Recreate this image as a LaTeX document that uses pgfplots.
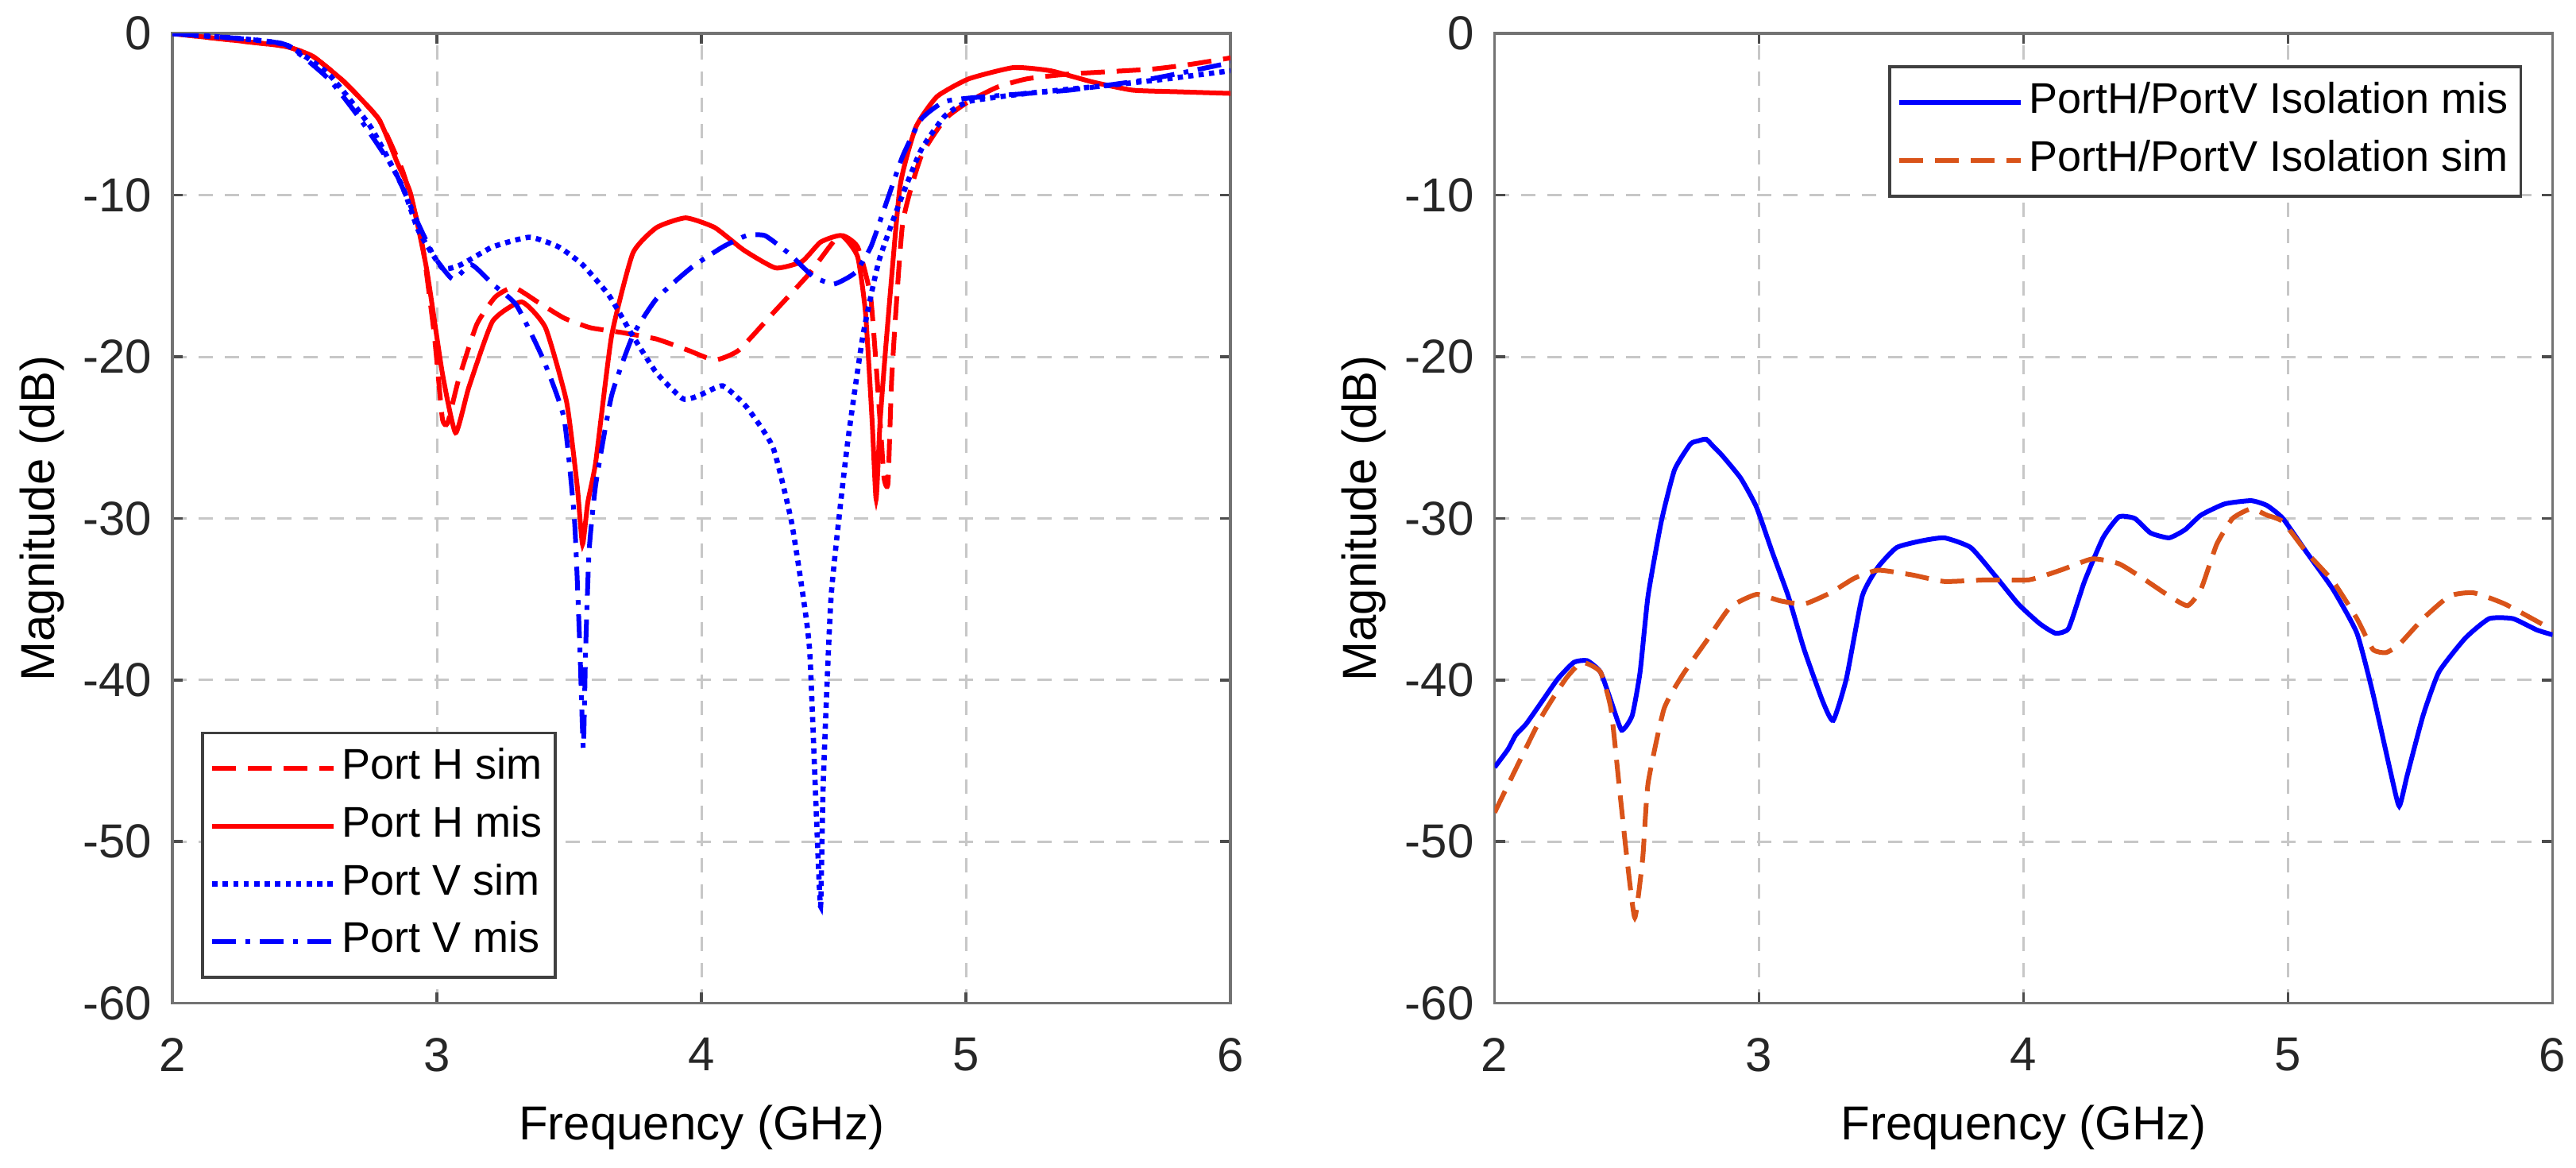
\documentclass[border=0pt]{standalone}
\usepackage{pgfplots}
\pgfplotsset{compat=1.18}
\usepackage{fontspec}
\setmainfont{Liberation Sans}
\definecolor{morange}{rgb}{0.85,0.325,0.098}
\pgfplotsset{
  mystyle/.style={
    scale only axis, width=222pt, height=203.4pt,
    xmin=2, xmax=6, ymin=-60, ymax=0,
    xtick={2,3,4,5,6}, ytick={-60,-50,-40,-30,-20,-10,0},
    /pgf/number format/assume math mode=true,
    tick label style={font=\fontsize{10}{12}\selectfont, text=black!85},
    xticklabel style={yshift=-3.8pt},
    yticklabel style={xshift=-0.8pt},
    label style={font=\fontsize{11.2}{13}\selectfont, text=black!85},
    every axis x label/.style={at={(axis description cs:0.5,0)}, yshift=-26pt, anchor=center},
    every axis y label/.style={at={(axis description cs:0,0.5)}, xshift=-27.4pt, rotate=90, anchor=center},
    xlabel={Frequency (GHz)}, ylabel={Magnitude (dB)},
    grid=major, major grid style={black!22, line width=0.5pt, dash pattern=on 3pt off 2.5pt},
    axis line style={black!55, line width=0.6pt},
    tick align=inside, major tick length=2.2pt, tick style={black!70, line width=0.6pt},
    legend cell align=left,
    legend image code/.code={\draw[#1] (0pt,0pt) -- (25.5pt,0pt);},
    legend style={draw=black!75, fill=white, line width=0.6pt, font=\fontsize{9}{11}\selectfont,
      inner xsep=1.5pt, inner ysep=1.45pt, row sep=0pt,
      nodes={inner xsep=1.2pt, inner ysep=1.55pt, text height=6.75pt, text depth=2.25pt}},
  }
}
\begin{document}
\begin{tikzpicture}
\useasboundingbox (0,0) rectangle (540.5pt,245pt);
% ---------------- left axis
\begin{axis}[mystyle, at={(36.2pt,34.55pt)}, anchor=south west,
  legend style={at={(axis description cs:0,0)}, anchor=south west, xshift=6pt, yshift=5.1pt}]
\addplot[red, line width=1pt, dash pattern=on 5pt off 2.5pt, smooth, tension=0.3] coordinates {
(2,0) (2.28,-0.5) (2.43,-0.8) (2.53,-1.4) (2.65,-3.0) (2.78,-5.3) (2.87,-8.5) (2.92,-11.3) (2.95,-13.6)
(2.99,-18.7) (3.02,-23.8) (3.04,-24.1) (3.08,-21.5) (3.15,-18.0) (3.22,-16.3) (3.29,-15.7) (3.38,-16.6) (3.48,-17.6) (3.58,-18.2) (3.7,-18.5)
(3.83,-18.9) (3.95,-19.6) (4.05,-20.2) (4.14,-19.6) (4.27,-17.3) (4.41,-14.8) (4.52,-12.5)
(4.59,-13.2) (4.64,-16.4) (4.675,-24) (4.69,-27.5) (4.705,-27.8) (4.72,-21) (4.76,-11.8) (4.83,-7.6)
(4.92,-5.3) (5.01,-4.2) (5.12,-3.3) (5.23,-2.8) (5.39,-2.5) (5.7,-2.2) (5.85,-1.9) (6,-1.5)
};
\addlegendentry{Port H sim}
\addplot[red, line width=1pt, smooth, tension=0.3] coordinates {
(2,0) (2.28,-0.5) (2.43,-0.8) (2.53,-1.4) (2.65,-3.0) (2.78,-5.3) (2.85,-8.0) (2.9,-9.9) (2.96,-14.5) (3.02,-21)
(3.07,-24.7) (3.12,-21.9) (3.21,-17.8) (3.32,-16.6) (3.41,-18.2) (3.49,-22.8) (3.53,-28) (3.55,-31.6)
(3.57,-29) (3.6,-26.5) (3.66,-18.7) (3.74,-13.6) (3.83,-12) (3.94,-11.4) (4.05,-12) (4.16,-13.4)
(4.28,-14.5) (4.38,-14.1) (4.45,-12.9) (4.53,-12.5) (4.59,-13.8) (4.62,-17.3) (4.645,-24) (4.66,-28.8) (4.675,-24)
(4.7,-18.7) (4.75,-9.5) (4.81,-5.8) (4.89,-3.9) (5.01,-2.8) (5.18,-2.1) (5.32,-2.3) (5.48,-3.0)
(5.63,-3.5) (5.8,-3.6) (6,-3.7)
};
\addlegendentry{Port H mis}
\addplot[blue, line width=1.1pt, dash pattern=on 1.1pt off 1.1pt, smooth, tension=0.3] coordinates {
(2,0) (2.25,-0.3) (2.43,-0.7) (2.59,-2.5) (2.75,-5.8) (2.87,-9.5) (2.93,-12.2) (3.02,-14.5) (3.09,-14.3)
(3.21,-13.2) (3.35,-12.6) (3.46,-13.2) (3.55,-14.3) (3.65,-16.2) (3.74,-18.7) (3.83,-21)
(3.93,-22.6) (3.99,-22.4) (4.08,-21.8) (4.17,-23.1) (4.27,-25.6) (4.34,-30.2) (4.39,-35.5) (4.41,-38.5)
(4.435,-48.7) (4.45,-54) (4.46,-46.4) (4.49,-34.8) (4.55,-25.6) (4.61,-18.7) (4.67,-14.1)
(4.75,-10.4) (4.83,-7.2) (4.92,-5.1) (5.01,-4.2) (5.23,-3.7) (5.54,-3.2) (5.76,-2.8) (6,-2.3)
};
\addlegendentry{Port V sim}
\addplot[blue, line width=1pt, dash pattern=on 5pt off 2pt on 1pt off 2pt, smooth, tension=0.3] coordinates {
(2,0) (2.25,-0.3) (2.43,-0.7) (2.59,-2.8) (2.71,-5.3) (2.84,-8.5) (2.93,-11.8) (2.99,-13.8) (3.06,-15.2)
(3.13,-14.3) (3.21,-15.5) (3.3,-16.8) (3.4,-20.1) (3.48,-23.8) (3.52,-30.2) (3.54,-38) (3.553,-44.2)
(3.562,-38) (3.575,-32) (3.6,-27.9) (3.66,-22.4) (3.74,-18.7) (3.83,-16.4) (3.96,-14.5) (4.08,-13.2)
(4.17,-12.5) (4.24,-12.5) (4.33,-13.6) (4.42,-15) (4.5,-15.5) (4.58,-14.8) (4.64,-13.2)
(4.7,-10.4) (4.76,-7.6) (4.83,-5.3) (4.92,-4.2) (5.07,-3.9) (5.39,-3.5) (5.7,-2.8) (6,-1.8)
};
\addlegendentry{Port V mis}
\end{axis}
% ---------------- right axis
\begin{axis}[mystyle, at={(313.6pt,34.55pt)}, anchor=south west,
  legend style={at={(axis description cs:1,1)}, anchor=north east, xshift=-6.4pt, yshift=-6.7pt}]
\addplot[blue, line width=1pt, smooth, tension=0.3] coordinates {
(2,-45.4) (2.05,-44.3) (2.08,-43.4) (2.12,-42.7) (2.18,-41.3) (2.24,-39.9) (2.3,-38.9) (2.35,-38.8) (2.4,-39.5)
(2.44,-41.3) (2.48,-43.1) (2.52,-42.2) (2.55,-39.5) (2.58,-34.8) (2.63,-30.2) (2.68,-27)
(2.74,-25.4) (2.77,-25.2) (2.8,-25.1) (2.83,-25.6) (2.86,-26.1) (2.93,-27.5) (2.99,-29.3) (3.05,-32.1) (3.11,-34.8)
(3.17,-38.1) (3.24,-41.3) (3.28,-42.5) (3.33,-39.9) (3.39,-34.8) (3.45,-33) (3.52,-31.8)
(3.61,-31.4) (3.7,-31.2) (3.8,-31.8) (3.89,-33.5) (3.98,-35.3) (4.06,-36.5) (4.12,-37.1)
(4.17,-36.8) (4.23,-33.9) (4.3,-31.2) (4.36,-29.9) (4.42,-30) (4.48,-30.9) (4.55,-31.2)
(4.61,-30.7) (4.67,-29.8) (4.76,-29.1) (4.86,-28.9) (4.92,-29.2) (4.98,-30) (5.07,-32.1)
(5.17,-34.4) (5.26,-37.1) (5.32,-40.8) (5.39,-45.9) (5.42,-47.8) (5.45,-45.9) (5.51,-42.2)
(5.57,-39.5) (5.67,-37.4) (5.76,-36.2) (5.85,-36.2) (5.94,-36.9) (6,-37.2)
};
\addlegendentry{PortH/PortV Isolation mis}
\addplot[morange, line width=1pt, dash pattern=on 5pt off 2.5pt, smooth, tension=0.3] coordinates {
(2,-48.2) (2.08,-45.5) (2.18,-42.2) (2.27,-39.9) (2.33,-38.9) (2.4,-39.5) (2.44,-41.8)
(2.47,-46.4) (2.5,-51) (2.53,-54.7) (2.56,-51) (2.58,-46.4) (2.64,-41.8) (2.71,-39.7)
(2.8,-37.6) (2.89,-35.5) (2.99,-34.7) (3.08,-35.1) (3.17,-35.3) (3.27,-34.6) (3.36,-33.7)
(3.45,-33.2) (3.58,-33.5) (3.7,-33.9) (3.86,-33.8) (4.02,-33.8) (4.14,-33.2) (4.26,-32.5)
(4.36,-32.8) (4.45,-33.7) (4.55,-34.8) (4.62,-35.4) (4.67,-34.4) (4.73,-31.6) (4.79,-30)
(4.86,-29.4) (4.92,-29.8) (4.98,-30.2) (5.07,-32.1) (5.17,-33.9) (5.26,-36.2) (5.32,-38.1)
(5.37,-38.3) (5.42,-37.8) (5.51,-36.2) (5.61,-34.8) (5.7,-34.6) (5.82,-35.3) (6,-36.9)
};
\addlegendentry{PortH/PortV Isolation sim}
\end{axis}
\end{tikzpicture}
\end{document}
